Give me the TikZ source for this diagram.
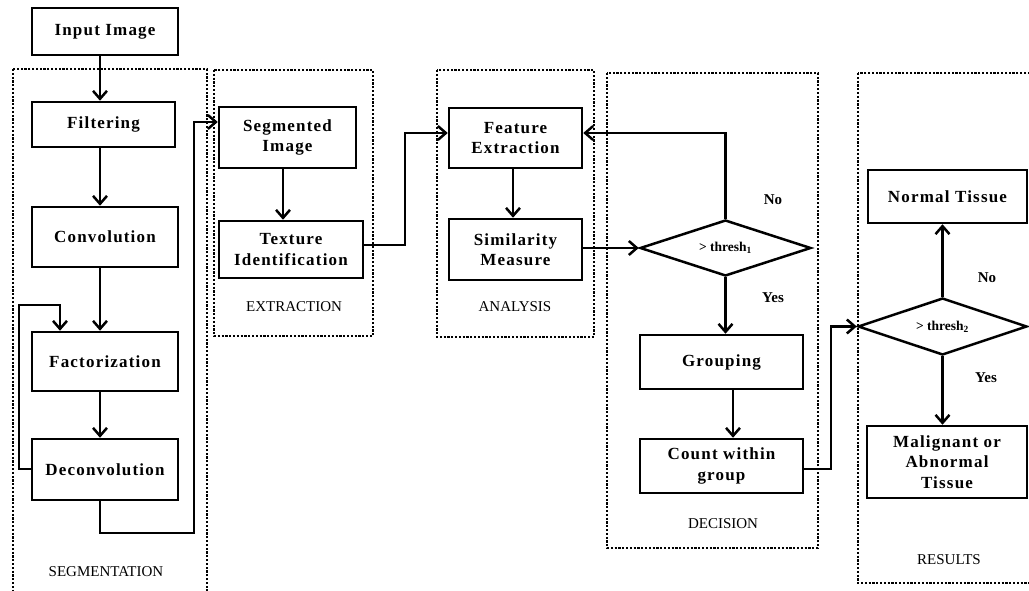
\documentclass[tikz,border=0pt]{standalone}
\usepackage{fontspec}
\setmainfont{Liberation Serif}
\newfontfamily\boxfont[LetterSpace=7]{Liberation Serif}
\usetikzlibrary{arrows.meta,shapes.geometric}

\tikzset{
  flowbox/.style={draw, line width=2.5pt, inner sep=0pt, align=center,
    font=\boxfont\bfseries\fontsize{17}{20.5}\selectfont},
  decide/.style={draw, diamond, line width=2.5pt, inner sep=0pt, aspect=3,
    font=\bfseries\fontsize{13.5}{15}\selectfont},
  region/.style={line width=2.4pt, dash pattern=on 2.2pt off 1.6pt},
  regionlabel/.style={font=\fontsize{15}{17}\selectfont, inner sep=0pt},
  answer/.style={font=\bfseries\fontsize{15}{17}\selectfont, inner sep=0pt},
  flow/.style={line width=2.5pt, -{Straight Barb[length=8pt,width=14pt]}},
}

\begin{document}
\begin{tikzpicture}[x=1pt, y=-1pt]
\useasboundingbox (0,0) rectangle (1029,591);
\clip (0,0) rectangle (1029,591);
\fill[white] (0,0) rectangle (1029,591);

% stage regions
\draw[region] (13,69) rectangle (207,600);
\draw[region] (214,70) rectangle (373,336);
\draw[region] (437,70) rectangle (594,337);
\draw[region] (607,73) rectangle (818,548);
\draw[region] (858,73) rectangle (1040,583);

\node[regionlabel] (lseg) at (106,572) {SEGMENTATION};
\node[regionlabel] (lext) at (294,307) {EXTRACTION};
\node[regionlabel] (lana) at (515,307) {ANALYSIS};
\node[regionlabel] (ldec) at (723,524) {DECISION};
\node[regionlabel] (lres) at (949,560) {RESULTS};

% process steps
\node[flowbox, minimum width=146pt, minimum height=47pt] (inp) at (105,31.5) {Input Image};
\node[flowbox, minimum width=143pt, minimum height=45pt] (filt) at (103.5,124.5) {Filtering};
\node[flowbox, minimum width=146pt, minimum height=60pt] (conv) at (105,237) {Convolution};
\node[flowbox, minimum width=146pt, minimum height=59pt] (fact) at (105,361.5) {Factorization};
\node[flowbox, minimum width=146pt, minimum height=61pt] (dconv) at (105,469.5) {Deconvolution};

\node[flowbox, minimum width=137pt, minimum height=61pt] (segi) at (287.5,137.5) {Segmented\\Image};
\node[flowbox, minimum width=144pt, minimum height=57pt] (tex) at (291,249.5) {Texture\\Identification};

\node[flowbox, minimum width=133pt, minimum height=60pt] (feat) at (515.5,138) {Feature\\Extraction};
\node[flowbox, minimum width=133pt, minimum height=61pt] (sim) at (515.5,249.5) {Similarity\\Measure};

\node[decide, minimum width=171pt, minimum height=56pt] (dA) at (725.5,248) {> thresh\textsubscript{1}};
\node[flowbox, minimum width=163pt, minimum height=54pt] (grp) at (721.5,362) {Grouping};
\node[flowbox, minimum width=163pt, minimum height=54pt] (cnt) at (721.5,466) {Count within\\group};

\node[decide, minimum width=169pt, minimum height=57pt] (dB) at (942.5,326.5) {> thresh\textsubscript{2}};
\node[flowbox, minimum width=159pt, minimum height=53pt] (norm) at (947.5,196.5) {Normal Tissue};
\node[flowbox, minimum width=160pt, minimum height=72pt] (mal) at (947,462) {Malignant or\\Abnormal\\Tissue};

\node[answer] (noA) at (773,200) {No};
\node[answer] (yesA) at (773,298) {Yes};
\node[answer] (noB) at (987,278) {No};
\node[answer] (yesB) at (986,378) {Yes};

% bend points
\coordinate (loopA) at (19,305);
\coordinate (loopB) at (60,305);
\coordinate (outA) at (100,533);
\coordinate (outB) at (194,533);
\coordinate (texA) at (405,245);
\coordinate (cntA) at (831,469);

% segmentation chain
\draw[flow] (inp.south -| 100,0) -- (filt.north -| 100,0);
\draw[flow] (filt.south -| 100,0) -- (conv.north -| 100,0);
\draw[flow] (conv.south -| 100,0) -- (fact.north -| 100,0);
\draw[flow] (fact.south -| 100,0) -- (dconv.north -| 100,0);
\draw[flow] (dconv.west |- 0,469) -| (loopA) -- (loopB) -- (loopB |- fact.north);
\draw[flow] (dconv.south -| outA) -- (outA) -- (outB) -- (outB |- 0,122) -- (segi.west |- 0,122);

% extraction and analysis
\draw[flow] (segi.south -| 283,0) -- (tex.north -| 283,0);
\draw[flow] (tex.east |- texA) -- (texA) -- (texA |- 0,133) -- (feat.west |- 0,133);
\draw[flow] (feat.south -| 513,0) -- (sim.north -| 513,0);
\draw[flow] (sim.east |- dA.west) -- (dA.west);

% first decision
\draw[flow] (dA.north) -- (dA.north |- 0,133) -- (feat.east |- 0,133);
\draw[flow] (dA.south) -- (dA.south |- grp.north);
\draw[flow] (grp.south -| 733,0) -- (cnt.north -| 733,0);
\draw[flow] (cnt.east |- cntA) -- (cntA) -- (cntA |- dB.west) -- (dB.west);

% second decision
\draw[flow] (dB.north) -- (dB.north |- norm.south);
\draw[flow] (dB.south) -- (dB.south |- mal.north);
\end{tikzpicture}
\end{document}
